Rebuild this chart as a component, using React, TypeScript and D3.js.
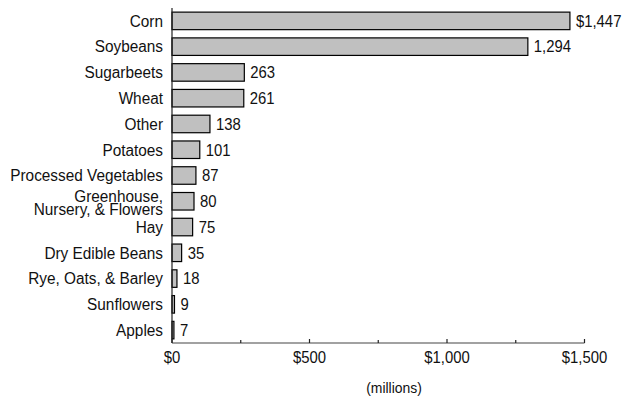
import React from "react";
import * as d3 from "d3";

const categories = [
  "Corn",
  "Soybeans",
  "Sugarbeets",
  "Wheat",
  "Other",
  "Potatoes",
  "Processed Vegetables",
  "Greenhouse,\nNursery, & Flowers",
  "Hay",
  "Dry Edible Beans",
  "Rye, Oats, & Barley",
  "Sunflowers",
  "Apples",
];
const values = [1447, 1294, 263, 261, 138, 101, 87, 80, 75, 35, 18, 9, 7];
const valueLabels = ["$1,447", "1,294", "263", "261", "138", "101", "87", "80", "75", "35", "18", "9", "7"];
const majorTicks = [0, 500, 1000, 1500];
const minorTicks = [250, 750, 1250];
const tickLabels = ["$0", "$500", "$1,000", "$1,500"];
const axisTitle = "(millions)";

const W = 623;
const H = 400;
const FONT = "'Liberation Sans', Arial, sans-serif";

function T({ x, y, anchor = "start", size = 16, sx = 0.93, children }: { x: number; y: number; anchor?: string; size?: number; sx?: number; children: React.ReactNode }) {
  return (
    <text transform={`translate(${x},${y}) scale(${sx},1)`} fontSize={size} textAnchor={anchor} fill="#111">
      {children}
    </text>
  );
}

export default function App() {
  const x = d3.scaleLinear().domain([0, 1500]).range([172, 584.5]);
  const y = d3.scaleBand<number>().domain(d3.range(categories.length)).range([8, 343]).paddingInner(0.32).paddingOuter(0.16);
  const axisY = 343;
  return (
    <svg width={W} height={H} style={{ position: "absolute", left: 0, top: 0, background: "#fff" }} fontFamily={FONT}>
      {values.map((v, i) => {
        const yy = y(i)!;
        const bh = y.bandwidth();
        const cy = yy + bh / 2;
        const lines = categories[i].split("\n");
        return (
          <g key={i}>
            <rect x={x(0)} y={yy} width={x(v) - x(0)} height={bh} fill="#c0c0c0" stroke="#000" strokeWidth={1.2} />
            <T x={x(v) + 6} y={cy + 5.8}>{valueLabels[i]}</T>
            {lines.length === 1 ? (
              <T x={163} y={cy + 5.8} anchor="end" sx={0.96}>{lines[0]}</T>
            ) : (
              <g>
                <T x={163} y={cy + 0.5} anchor="end" sx={0.96}>{lines[0]}</T>
                <T x={163} y={cy + 14} anchor="end" sx={0.96}>{lines[1]}</T>
              </g>
            )}
          </g>
        );
      })}
      <line x1={x(0)} x2={x(0)} y1={8} y2={axisY} stroke="#222" strokeWidth={1.2} />
      <line x1={x(0)} x2={x(1500)} y1={axisY} y2={axisY} stroke="#444" strokeWidth={1.2} />
      {majorTicks.map((t, i) => (
        <g key={t}>
          <line x1={x(t)} x2={x(t)} y1={axisY - 4} y2={axisY} stroke="#222" strokeWidth={1.2} />
          <T x={x(t)} y={363} anchor="middle">{tickLabels[i]}</T>
        </g>
      ))}
      {minorTicks.map((t) => (
        <line key={t} x1={x(t)} x2={x(t)} y1={axisY - 3} y2={axisY} stroke="#222" strokeWidth={1.2} />
      ))}
      <T x={394} y={393} anchor="middle" size={15}>{axisTitle}</T>
    </svg>
  );
}
